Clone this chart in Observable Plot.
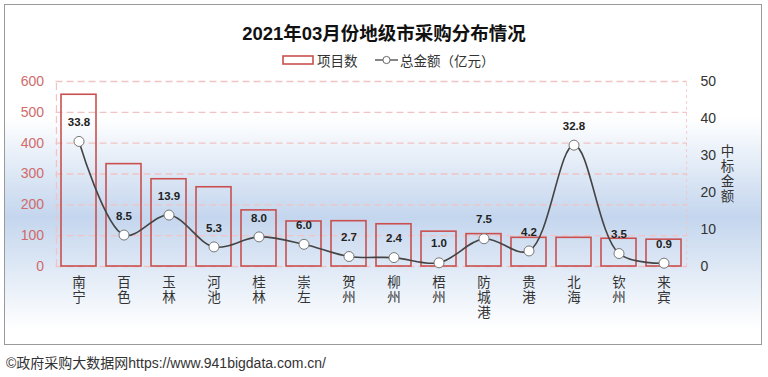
<!DOCTYPE html>
<html><head><meta charset="utf-8">
<script src="https://cdn.jsdelivr.net/npm/d3@7"></script>
<script src="https://cdn.jsdelivr.net/npm/@observablehq/plot@0.6"></script>
<style>
html,body{margin:0;padding:0;background:#fff;}
body{width:768px;height:377px;position:relative;overflow:hidden;font-family:"Liberation Sans","Noto Sans CJK SC",sans-serif;}
#frame{position:absolute;left:4px;top:4px;width:756px;height:339px;border:1.5px solid #9a9a9a;
 background:linear-gradient(to bottom,#ffffff 0px,#ffffff 112px,#c4d6ee 212px,#ffffff 324px);}
#title{position:absolute;left:0;width:768px;top:19px;text-align:center;font-size:18.5px;font-weight:bold;color:#111;}
#legend{position:absolute;top:51px;left:0;width:768px;font-size:13.5px;color:#333;}
#chart{position:absolute;left:0;top:70px;}
#caption{position:absolute;left:6px;top:352px;font-size:14px;color:#333;}
</style></head>
<body>
<div id="frame"></div>
<div id="title">2021年03月份地级市采购分布情况</div>
<div id="legend">
 <svg width="768" height="20" style="position:absolute;left:0;top:0">
  <rect x="283" y="5" width="30" height="8" fill="none" stroke="#c9504f" stroke-width="1.6"/>
  <text x="317" y="14.5" font-size="13.5" fill="#333" font-family="Noto Sans CJK SC">项目数</text>
  <line x1="375" x2="398" y1="9" y2="9" stroke="#444" stroke-width="1.3"/>
  <circle cx="386.5" cy="9" r="3.6" fill="#fff" stroke="#666" stroke-width="1"/>
  <text x="400" y="14.5" font-size="13.5" fill="#333" font-family="Noto Sans CJK SC">总金额（亿元）</text>
 </svg>
</div>
<div id="chart"></div>
<div id="caption">©政府采购大数据网https://www.941bigdata.com.cn/</div>
<script>
const cities = ["南宁","百色","玉林","河池","桂林","崇左","贺州","柳州","梧州","防城港","贵港","北海","钦州","来宾"];
const projectCounts = [557, 332, 283, 257, 182, 146, 147, 137, 113, 105, 93, 93, 90, 87];
const amounts = [33.8, 8.5, 13.9, 5.3, 8.0, 6.0, 2.7, 2.4, 1.0, 7.5, 4.2, 32.8, 3.5, 0.9];
const leftTicks = [0, 100, 200, 300, 400, 500, 600];
const rightTicks = [0, 10, 20, 30, 40, 50];
const ratio = 600 / 50;

const data = cities.map((c, i) => ({city: c, count: projectCounts[i], amount: amounts[i], scaled: amounts[i] * ratio}));

const fam = "Liberation Sans, Noto Sans CJK SC, sans-serif";
const chart = Plot.plot({
  width: 768,
  height: 260,
  marginTop: 11,
  marginBottom: 64,
  marginLeft: 55.5,
  marginRight: 81,
  style: {background: "transparent", fontFamily: fam, overflow: "visible"},
  x: {domain: cities, padding: 0, label: null},
  y: {domain: [0, 600], label: null},
  marks: [
    Plot.ruleY(leftTicks, {stroke: "#f0c4c4", strokeWidth: 1.3, strokeDasharray: "7,4"}),
    Plot.ruleX([0], {x: () => cities[0], y1: 0, y2: 600, dx: -22.55, stroke: "#f0c4c4", strokeWidth: 1.2, strokeDasharray: "7,4"}),
    Plot.ruleX([0], {x: () => cities[13], y1: 0, y2: 600, dx: 22.55, stroke: "#f0c4c4", strokeWidth: 0.8, strokeDasharray: "3,3"}),
    Plot.barY(data, {x: "city", y: "count", fill: "none", stroke: "#c9504f", strokeWidth: 1.6, insetLeft: 5, insetRight: 5}),
    Plot.line(data, {x: "city", y: "scaled", curve: "catmull-rom", stroke: "#444", strokeWidth: 1.6}),
    Plot.dot(data, {x: "city", y: "scaled", r: 5, fill: "#fff", stroke: "#777", strokeWidth: 1}),
    Plot.text(data, {x: "city", y: "scaled", text: d => d.amount.toFixed(1), dy: -19, fontSize: 11.5, fontWeight: "bold", fill: "#222"}),
    Plot.axisY({ticks: leftTicks, tickSize: 0, tickPadding: 12, fontSize: 14, color: "#cf6b6b", label: null}),
    Plot.axisY({anchor: "right", ticks: rightTicks.map(v => v * ratio), tickFormat: d => d / ratio, tickSize: 0, tickPadding: 13, fontSize: 14, color: "#333", label: null}),
    Plot.axisX({tickSize: 0, tickPadding: 10, fontSize: 13.5, lineHeight: 1.12, lineAnchor: "top", fill: "#333", fontFamily: "Noto Sans CJK SC", tickFormat: d => d.split("").join("\n"), label: null}),
    Plot.text(["中\n标\n金\n额"], {frameAnchor: "right", textAnchor: "middle", dx: 40, fontSize: 13.5, lineHeight: 1.1, fill: "#333", fontFamily: "Noto Sans CJK SC"})
  ]
});
document.getElementById("chart").appendChild(chart);
</script>
</body></html>
